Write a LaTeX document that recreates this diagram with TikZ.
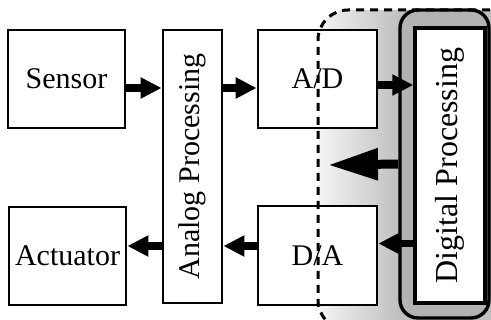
\documentclass[tikz,border=0pt]{standalone}
\usepackage{fontspec}
\setmainfont{Liberation Serif}
\usetikzlibrary{arrows.meta,calc}
\begin{document}
\begin{tikzpicture}[x=0.5pt,y=-0.5pt,
  box/.style={draw, line width=1.4pt, fill=white, inner sep=0pt, font=\fontsize{15}{18}\selectfont},
  arr/.style={line width=3.8pt, -{Triangle[length=10.5pt,width=10pt]}},
  bigarr/.style={line width=4.5pt, -{Triangle[length=25pt,width=15pt]}},
  dashbound/.style={line width=1.5pt, dash pattern=on 4pt off 3pt},
  shadefill/.style={fill=gray!50}]
\useasboundingbox (0,0) rectangle (491,320);
% shaded digital domain
\begin{scope}
  \clip (0,0) rectangle (491,320);
  \begin{scope}
    \clip[rounded corners=14pt] (318,10) rectangle (540,330);
    \shade[left color=gray!8, right color=gray!50] (318,0) rectangle (400,330);
    \fill[gray!50] (399,0) rectangle (540,330);
  \end{scope}
  \draw[line width=1.7pt, fill=gray!60, rounded corners=9pt] (400,10) rectangle (489,318);
\end{scope}
% nodes
\node[box, minimum width=58.5pt, minimum height=49pt] (sensor) at (66.5,79) {Sensor};
\node[box, minimum width=58.5pt, minimum height=49pt] (actuator) at (67.5,256) {Actuator};
\node[box, minimum width=29.5pt, minimum height=136.5pt] (analog) at (192.5,166.5) {\rotatebox{90}{Analog Processing}};
\node[box, minimum width=59.5pt, minimum height=49pt] (ad) at (317.5,79) {A/D};
\node[box, minimum width=59.5pt, minimum height=49.5pt] (da) at (317.5,255.5) {D/A};
\node[box, line width=1.7pt, minimum width=35pt, minimum height=137.5pt, font=\fontsize{16}{19}\selectfont] (digital) at (450,165.5) {\rotatebox{90}{Digital Processing}};
% connectors
\draw[arr] ([yshift=-4.5pt]sensor.east) -- ([yshift=-4.5pt]sensor.east -| analog.west);
\draw[arr] ([yshift=-4.5pt]sensor.east -| analog.east) -- ([yshift=-4.5pt]sensor.east -| ad.west);
\draw[arr] ([yshift=-3pt]ad.east) -- ([yshift=-3pt]ad.east -| digital.west);
\draw[arr] ([yshift=5pt]actuator.east -| analog.west) -- ([yshift=5pt]actuator.east);
\draw[arr] ([yshift=5pt]actuator.east -| da.west) -- ([yshift=5pt]actuator.east -| analog.east);
\draw[arr] ([yshift=6pt]da.east -| digital.west) -- ([yshift=6pt]da.east);
% big arrow into the analog side
\coordinate (bigtail) at (398,164);
\coordinate (bigtip) at (328,165);
\draw[bigarr] (bigtail) -- (bigtip);
% dashed boundary
\begin{scope}
  \clip (0,0) rectangle (491,320);
  \draw[dashbound, rounded corners=15pt] (560,10) -- (318,10) -- (318,330) -- (560,330);
\end{scope}
\end{tikzpicture}
\end{document}
